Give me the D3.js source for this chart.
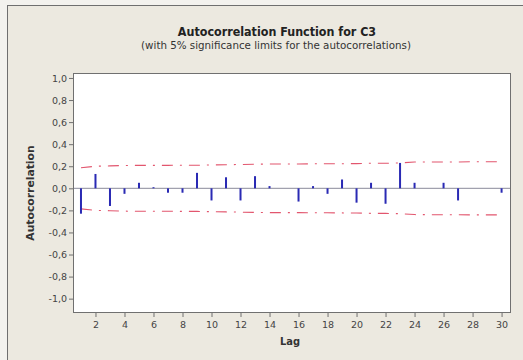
<!DOCTYPE html>
<html>
<head>
<meta charset="utf-8">
<script src="https://cdn.jsdelivr.net/npm/d3@7"></script>
<style>
  body { margin: 0; background: #f3f2ee; }
  svg { display: block; }
  text { font-family: Tahoma, "DejaVu Sans Condensed", "DejaVu Sans", sans-serif; }
</style>
</head>
<body>
<svg id="chart"></svg>
<script>
const width = 523;
const height = 360;
const margin = { top: 73, right: 12, bottom: 47, left: 73 };

// lags 1..30
const lags = d3.range(1, 31);
// autocorrelation
const acf = [
  -0.23, 0.13, -0.16, -0.05, 0.05, 0.01, -0.04, -0.04, 0.14, -0.11,
  0.10, -0.11, 0.11, 0.02, 0.0, -0.12, 0.02, -0.05, 0.08, -0.13,
  0.05, -0.14, 0.23, 0.05, 0.0, 0.05, -0.11, 0.0, 0.0, -0.04
];
// 5% significance limits (upper; lower is the mirror)
const limits = [
  0.186, 0.200, 0.203, 0.207, 0.208, 0.208, 0.208, 0.209, 0.209, 0.212,
  0.214, 0.216, 0.218, 0.220, 0.220, 0.220, 0.222, 0.222, 0.223, 0.224,
  0.227, 0.227, 0.230, 0.238, 0.239, 0.239, 0.239, 0.241, 0.241, 0.241
];
const yTicks = [1, 0.8, 0.6, 0.4, 0.2, 0, -0.2, -0.4, -0.6, -0.8, -1];
const xTicks = [2, 4, 6, 8, 10, 12, 14, 16, 18, 20, 22, 24, 26, 28, 30];

const title = "Autocorrelation Function for C3";
const subtitle = "(with 5% significance limits for the autocorrelations)";

const svg = d3.select("#chart").attr("width", width).attr("height", height);

// outer panel
svg.append("rect")
  .attr("x", 7.5).attr("y", 5.5)
  .attr("width", width + 20).attr("height", height + 20)
  .attr("fill", "#ece9e0")
  .attr("stroke", "#6f6f6f");

const plotW = width - margin.left - margin.right;
const plotH = height - margin.top - margin.bottom;

let x = d3.scaleLinear().domain([0.45, 30.65]).range([margin.left, width - margin.right]);
let y = d3.scaleLinear().domain([-1.13, 1.045]).range([height - margin.bottom, margin.top]);

// plot area
svg.append("rect")
  .attr("x", margin.left).attr("y", margin.top)
  .attr("width", plotW).attr("height", plotH)
  .attr("fill", "#ffffff");

// axes
const fmt = (d) => d3.format(".1f")(d).replace(".", ",").replace("−", "-");

const yAxis = svg.append("g")
  .attr("transform", `translate(${margin.left}, 0)`)
  .call(d3.axisLeft(y).tickValues(yTicks).tickSize(4).tickPadding(2).tickFormat(fmt));

const xAxis = svg.append("g")
  .attr("transform", `translate(0, ${height - margin.bottom})`)
  .call(d3.axisBottom(x).tickValues(xTicks).tickSize(4).tickPadding(4).tickFormat(d3.format("d")));

[xAxis, yAxis].forEach((g) => {
  g.select(".domain").remove();
  g.selectAll("line").attr("stroke", "#707070");
  g.selectAll("text")
    .attr("fill", "#444")
    .style("font-family", "'DejaVu Sans', sans-serif")
    .style("font-size", "9.5px");
});

// zero line
svg.append("line")
  .attr("x1", margin.left).attr("x2", width - margin.right)
  .attr("y1", y(0)).attr("y2", y(0))
  .attr("stroke", "#8a8a9a").attr("stroke-width", 1);

// significance limits
const limitLine = d3.line().x((d, i) => x(lags[i])).y((d) => y(d));
[1, -1].forEach((sign) => {
  svg.append("path")
    .datum(limits.map((d) => d * sign))
    .attr("d", limitLine)
    .attr("fill", "none")
    .attr("stroke", "#e2566e")
    .attr("stroke-width", 1.1)
    .attr("stroke-dasharray", "11,7,2,7");
});

// bars
svg.selectAll("rect.bar")
  .data(acf)
  .enter()
  .append("rect")
  .attr("class", "bar")
  .attr("x", (d, i) => x(lags[i]) - 1)
  .attr("y", (d) => y(Math.max(0, d)))
  .attr("width", 2)
  .attr("height", (d) => Math.abs(y(d) - y(0)))
  .attr("fill", "#2a2ab4");

// frame
svg.append("rect")
  .attr("x", margin.left + 0.5).attr("y", margin.top + 0.5)
  .attr("width", plotW - 1).attr("height", plotH - 1)
  .attr("fill", "none")
  .attr("stroke", "#707070");

// titles
svg.append("text")
  .attr("x", 277).attr("y", 36)
  .attr("text-anchor", "middle")
  .style("font-size", "12.4px").style("font-weight", "bold")
  .attr("fill", "#222")
  .text(title);

svg.append("text")
  .attr("x", 276).attr("y", 48.5)
  .attr("text-anchor", "middle")
  .style("font-family", "'DejaVu Sans', sans-serif")
  .style("font-size", "10.3px")
  .attr("fill", "#333")
  .text(subtitle);

svg.append("text")
  .attr("x", 290).attr("y", 345)
  .attr("text-anchor", "middle")
  .style("font-size", "11px").style("font-weight", "bold")
  .attr("fill", "#333")
  .text("Lag");

svg.append("text")
  .attr("transform", "translate(34, 193) rotate(-90)")
  .attr("text-anchor", "middle")
  .style("font-family", "'DejaVu Sans', sans-serif")
  .style("font-size", "10.8px").style("font-weight", "bold")
  .attr("fill", "#333")
  .text("Autocorrelation");
</script>
</body>
</html>
